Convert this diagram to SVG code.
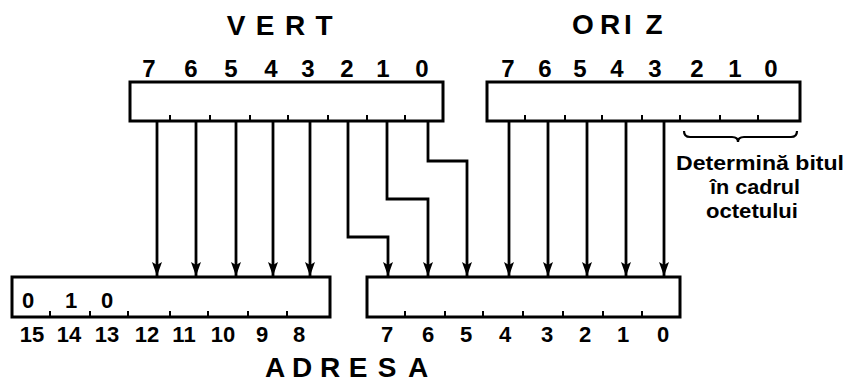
<svg xmlns="http://www.w3.org/2000/svg" width="850" height="383" viewBox="0 0 850 383">
<style>
.box{fill:#fff;stroke:#000;stroke-width:3}
.tick{stroke:#000;stroke-width:2}
.wire{fill:none;stroke:#000;stroke-width:2.8;marker-end:url(#ah)}
.title{font-family:"Liberation Sans",Arial,sans-serif;font-weight:bold;font-size:28px;text-anchor:middle;fill:#000}
.dig{font-family:"Liberation Sans",Arial,sans-serif;font-weight:bold;font-size:24px;text-anchor:middle;fill:#000}
.sdig{font-family:"Liberation Sans",Arial,sans-serif;font-weight:bold;font-size:22px;text-anchor:middle;fill:#000}
.note{font-family:"Liberation Sans",Arial,sans-serif;font-weight:bold;font-size:20px;text-anchor:middle;fill:#000}
.brace{fill:none;stroke:#000;stroke-width:2.2}
</style>
<defs>
<marker id="ah" markerUnits="userSpaceOnUse" markerWidth="14" markerHeight="10" viewBox="0 0 14 10" refX="14" refY="5" orient="auto">
<path d="M0,0 L14,5 L0,10 L3,5 Z" fill="#000"/>
</marker>
</defs>

<g id="vert">
<text class="title" x="236 265 295 324" y="35">VERT</text>
<text class="dig" x="149 191 231 271 308 347 383 422" y="77">76543210</text>
<rect class="box" x="130" y="82" width="313" height="39"/>
<path class="tick" d="M170,121v-6M210,121v-6M250,121v-6M288,121v-6M328,121v-6M367,121v-6M405,121v-6"/>
</g>

<g id="oriz">
<text class="title" x="583 610 628 654" y="34">ORIZ</text>
<text class="dig" x="508 545 580 617 655 697 735 771" y="77">76543210</text>
<rect class="box" x="487" y="82" width="313" height="39"/>
<path class="tick" d="M525,121v-6M565,121v-6M602,121v-6M642,121v-6M680,121v-6M720,121v-6M758,121v-6"/>
</g>

<g id="note">
<path class="brace" d="M684,131 Q684,137 690,137 L732,137 Q738,137 738,142 Q738,137 744,137 L791,137 Q797,137 797,131"/>
<text class="note" x="760" y="170" textLength="168" lengthAdjust="spacingAndGlyphs">Determină bitul</text>
<text class="note" x="755" y="194" textLength="90" lengthAdjust="spacingAndGlyphs">în cadrul</text>
<text class="note" x="752" y="218" textLength="92" lengthAdjust="spacingAndGlyphs">octetului</text>
</g>

<g id="adresa-high">
<rect class="box" x="12" y="277" width="318" height="40"/>
<path class="tick" d="M50,317v-6M90,317v-6M128,317v-6M170,317v-6M208,317v-6M248,317v-6M287,317v-6"/>
<text class="sdig" x="28 71 107" y="308">010</text>
<text class="sdig" x="32" y="342">15</text>
<text class="sdig" x="69" y="342">14</text>
<text class="sdig" x="107" y="342">13</text>
<text class="sdig" x="147" y="342">12</text>
<text class="sdig" x="184" y="342">11</text>
<text class="sdig" x="223" y="342">10</text>
<text class="sdig" x="262" y="342">9</text>
<text class="sdig" x="299" y="342">8</text>
</g>

<g id="adresa-low">
<rect class="box" x="367" y="277" width="313" height="40"/>
<path class="tick" d="M405,317v-6M445,317v-6M483,317v-6M523,317v-6M563,317v-6M603,317v-6M642,317v-6"/>
<text class="sdig" x="387 428 466 505 547 585 623 663" y="342">76543210</text>
</g>

<g id="adresa-label">
<text class="title" x="275 302 330 358 387 418" y="377">ADRESA</text>
</g>

<g id="connectors">
<path class="wire" d="M157,121V276"/>
<path class="wire" d="M196,121V276"/>
<path class="wire" d="M236,121V276"/>
<path class="wire" d="M273,121V276"/>
<path class="wire" d="M310,121V276"/>
<path class="wire" d="M348,121V237H388V276"/>
<path class="wire" d="M387,121V199H428V276"/>
<path class="wire" d="M428,121V161H467V276"/>
<path class="wire" d="M509,121V276"/>
<path class="wire" d="M548,121V276"/>
<path class="wire" d="M587,121V276"/>
<path class="wire" d="M626,121V276"/>
<path class="wire" d="M664,121V276"/>
</g>
</svg>
